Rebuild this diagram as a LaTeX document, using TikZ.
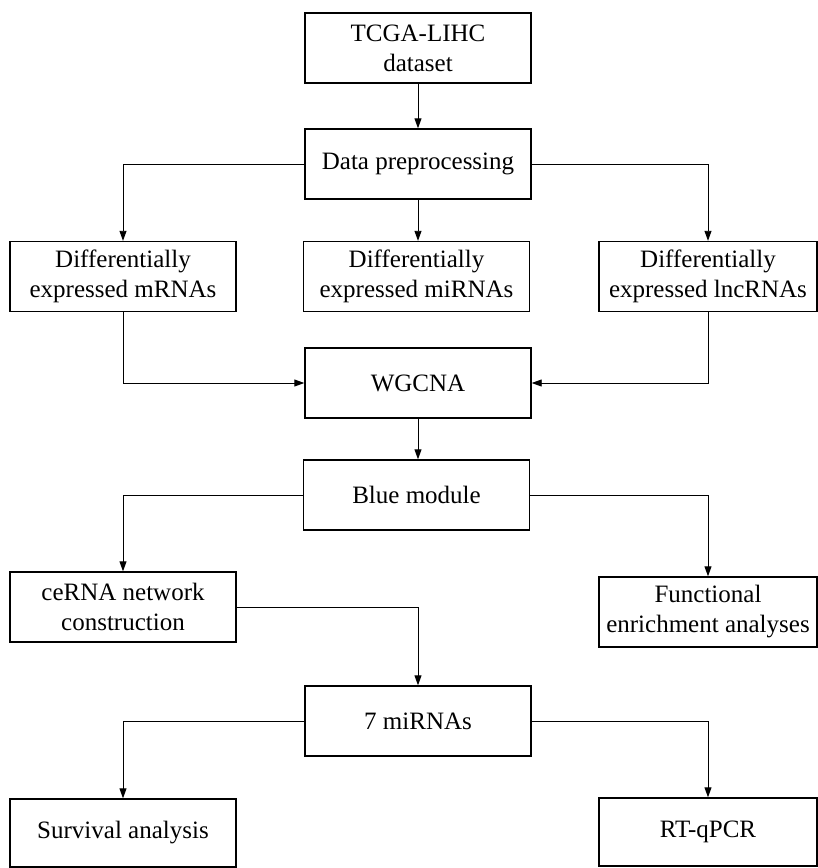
\documentclass[tikz,border=0pt]{standalone}
\usepackage{fontspec}
\setmainfont{Liberation Serif}
\usetikzlibrary{arrows.meta}

\tikzset{
  box/.style={draw, line width=1.4pt, minimum width=226pt, minimum height=70pt,
    inner sep=2pt, align=center, font=\fontsize{25}{30}\selectfont},
  sidebox/.style={box, minimum width=218pt},
  link/.style={line width=0.9pt, -{Triangle[length=10pt,width=7pt]}}
}

\begin{document}
\begin{tikzpicture}[x=1pt,y=-1pt]
\useasboundingbox (0,0) rectangle (818,868);

\node[box] (tcga) at (418,48) {TCGA-LIHC\\dataset}; % top
\node[box] (prep) at (418,164) {Data preprocessing};
\node[box] (mrna) at (123,276.5) {Differentially\\expressed mRNAs}; % left
\node[box] (mirna) at (416.5,276.5) {Differentially\\expressed miRNAs}; % middle
\node[sidebox] (lnc) at (708,276.5) {Differentially\\expressed lncRNAs}; % right
\node[box] (wgcna) at (418,383) {WGCNA};
\node[box] (blue) at (416.5,495) {Blue module};
\node[box] (cerna) at (123,607) {ceRNA network\\construction}; % left
\node[sidebox] (func) at (708,612) {Functional\\enrichment analyses}; % right
\node[box] (mir7) at (418,721) {7 miRNAs};
\node[box, minimum height=68pt] (surv) at (123,833) {Survival analysis}; % bottom left
\node[sidebox, minimum height=68pt] (rt) at (708,832) {RT-qPCR}; % bottom right

\draw[link] (tcga) -- (prep);
\draw[link] (prep.west) -| (mrna.north);
\draw[link] (prep) -- (prep |- mirna.north);
\draw[link] (prep.east) -| (lnc.north);

\draw[link] (mrna.south) |- (wgcna.west);
\draw[link] (lnc.south) |- (wgcna.east);
\draw[link] (wgcna) -- (wgcna |- blue.north);

\draw[link] (blue.west) -| (cerna.north);
\draw[link] (blue.east) -| (func.north);
\draw[link] (cerna.east) -| (mir7.north);

\draw[link] (mir7.west) -| (surv.north);
\draw[link] (mir7.east) -| (rt.north);

\end{tikzpicture}
\end{document}
